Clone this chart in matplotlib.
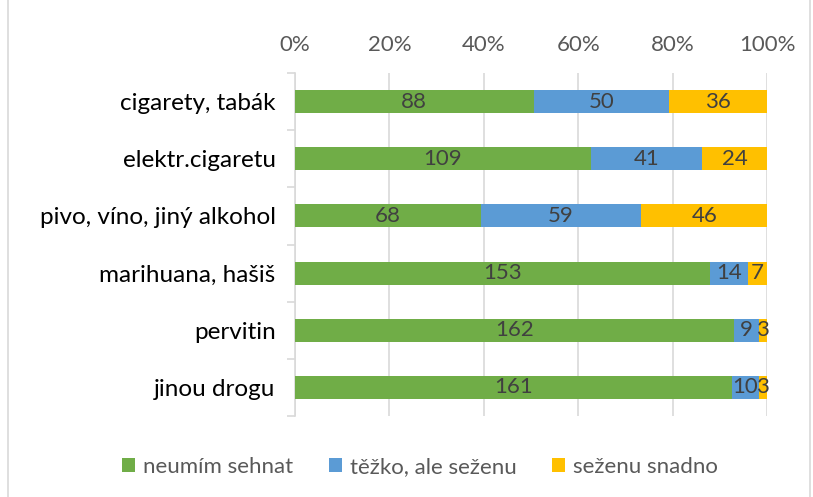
import numpy as np
import matplotlib.pyplot as plt
from matplotlib.patches import Rectangle

plt.rcParams['font.family'] = ['Lato', 'DejaVu Sans']

categories = ['cigarety, tabák', 'elektr.cigaretu', 'pivo, víno, jiný alkohol',
              'marihuana, hašiš', 'pervitin', 'jinou drogu']
series_names = ['neumím sehnat', 'těžko, ale seženu', 'seženu snadno']
neumim = np.array([88, 109, 68, 153, 162, 161])
tezko = np.array([50, 41, 59, 14, 9, 10])
snadno = np.array([36, 24, 46, 7, 3, 3])
colors = ['#70AD47', '#5B9BD5', '#FFC000']

data = np.vstack([neumim, tezko, snadno]).astype(float)
totals = data.sum(axis=0)
pct = data / totals

fig = plt.figure(figsize=(8.13, 4.97), dpi=100)
ax = fig.add_axes([295 / 813, 1 - 416 / 497, 472 / 813, 343 / 497])

y = np.arange(len(categories))
left = np.zeros(len(categories))
for i in range(3):
    ax.barh(y, pct[i], left=left, height=0.4, color=colors[i],
            label=series_names[i], zorder=3)
    for j in range(len(categories)):
        ax.text(left[j] + pct[i][j] / 2, y[j], str(int(data[i][j])),
                ha='center', va='center', fontsize=16, color='#404040', zorder=4)
    left += pct[i]

ax.set_xlim(0, 1)
ax.set_ylim(len(categories) - 0.5, -0.5)
ax.xaxis.tick_top()
ax.set_xticks(np.arange(0, 1.01, 0.2))
ax.set_xticklabels([f'{int(v * 100)}%' for v in np.arange(0, 1.01, 0.2)])
ax.tick_params(axis='x', length=0, labelsize=16, labelcolor='#595959', pad=13)
ax.grid(axis='x', color='#D9D9D9', linewidth=1.2, zorder=0)

ax.set_yticks(y)
ax.set_yticklabels(categories)
ax.tick_params(axis='y', length=0, labelsize=17.5, labelcolor='black', pad=14)
ax.set_yticks(np.arange(-0.5, len(categories), 1), minor=True)
ax.tick_params(axis='y', which='minor', length=6, color='#D9D9D9', width=1.2)

for s in ['top', 'right', 'bottom']:
    ax.spines[s].set_visible(False)
ax.spines['left'].set_color('#D9D9D9')
ax.spines['left'].set_linewidth(1.2)

fig.legend(loc='center', bbox_to_anchor=(420 / 813, 1 - 467 / 497), ncol=3,
           frameon=False, fontsize=16, handlelength=0.6, handleheight=0.6,
           columnspacing=1.6, handletextpad=0.35, labelcolor='#595959')

fig.patches.append(Rectangle((8 / 813, -0.01), 802 / 813, 1.02, transform=fig.transFigure,
                             fill=False, edgecolor='#D9D9D9', linewidth=1.2))

fig.savefig('out.png', dpi=100)
